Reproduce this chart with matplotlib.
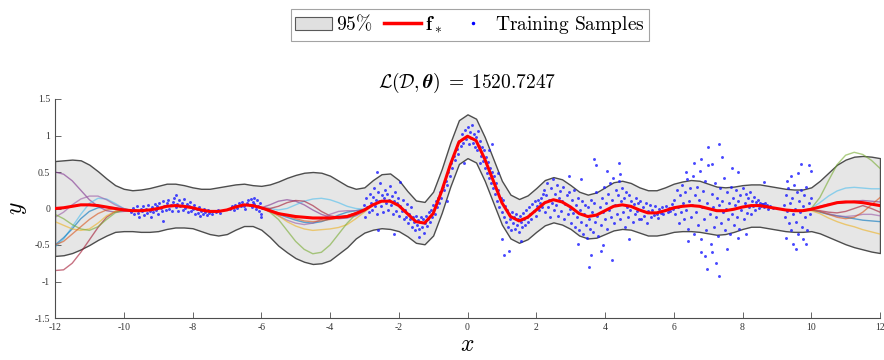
import numpy as np
import matplotlib
matplotlib.use("Agg")
import matplotlib.pyplot as plt
from matplotlib.patches import Patch
from matplotlib.lines import Line2D

plt.rcParams["font.family"] = ["Liberation Serif", "DejaVu Serif"]
plt.rcParams["mathtext.fontset"] = "cm"
plt.rcParams["axes.unicode_minus"] = False

# ---------------------------------------------------------------
# data
# ---------------------------------------------------------------

# grid for the posterior mean / band (step 0.25 from -12 to 12)
x_grid = np.arange(-12, 12.001, 0.25)

mean_f = [
    0.00, 0.01, 0.03, 0.05, 0.05, 0.04, 0.02, 0.00,            # -12 .. -10.25
    -0.02, -0.03, -0.03, -0.02, 0.00, 0.03, 0.04, 0.03,        # -10 .. -8.25
    0.01, -0.02, -0.04, -0.04, -0.02, 0.02, 0.05, 0.04,        # -8 .. -6.25
    0.01, -0.03, -0.07, -0.09, -0.11, -0.12, -0.13, -0.13,     # -6 .. -4.25
    -0.13, -0.12, -0.11, -0.07, -0.02, 0.05, 0.10, 0.10,       # -4 .. -2.25
    0.04, -0.07, -0.18, -0.20, -0.07, 0.24, 0.60, 0.91,        # -2 .. -0.25
    0.99, 0.93, 0.68, 0.38, 0.08, -0.11, -0.17, -0.12,         # 0 .. 1.75
    -0.02, 0.08, 0.12, 0.09, 0.02, -0.07, -0.11, -0.09,        # 2 .. 3.75
    -0.03, 0.03, 0.05, 0.03, -0.02, -0.06, -0.06, -0.03,       # 4 .. 5.75
    0.01, 0.03, 0.04, 0.03, 0.00, -0.03, -0.03, -0.01,         # 6 .. 7.75
    0.02, 0.04, 0.04, 0.02, 0.00, -0.02, -0.03, -0.03,         # 8 .. 9.75
    -0.01, 0.02, 0.05, 0.08, 0.09, 0.09, 0.08, 0.06,           # 10 .. 11.75
    0.04,                                                      # 12
]

# half width of the 95% band
band_half = [
    0.65, 0.65, 0.64, 0.61, 0.55, 0.47, 0.39, 0.32,
    0.29, 0.28, 0.29, 0.30, 0.31, 0.31, 0.30, 0.29,
    0.28, 0.29, 0.31, 0.33, 0.33, 0.31, 0.29, 0.28,
    0.30, 0.36, 0.44, 0.51, 0.57, 0.61, 0.63, 0.62,
    0.58, 0.50, 0.42, 0.34, 0.31, 0.34, 0.37, 0.38,
    0.35, 0.31, 0.29, 0.29, 0.30, 0.30, 0.30, 0.30,
    0.30, 0.30, 0.30, 0.30, 0.30, 0.30, 0.30, 0.30,
    0.30, 0.31, 0.31, 0.31, 0.30, 0.30, 0.30, 0.31,
    0.32, 0.33, 0.33, 0.32, 0.31, 0.31, 0.31, 0.32,
    0.33, 0.34, 0.35, 0.35, 0.34, 0.33, 0.32, 0.31,
    0.30, 0.29, 0.29, 0.29, 0.29, 0.29, 0.29, 0.29,
    0.30, 0.36, 0.44, 0.52, 0.58, 0.62, 0.64, 0.65,
    0.65,
]

# posterior sample curves, only where they leave the mean (gaps in data)
x_left = np.arange(-12, -9.74, 0.25)
x_mid = np.arange(-6, -2.74, 0.25)
x_right = np.arange(9.75, 12.001, 0.25)

sample_colors = ["#7E2F8E", "#4DBEEE", "#0072BD", "#A2142F",
                 "#9B59A6", "#EDB120", "#77AC30", "#D95319"]

samples_left = [
    [0.50, 0.47, 0.38, 0.25, 0.12, 0.03, -0.03, -0.05, -0.04, -0.03],
    [-0.53, -0.42, -0.25, -0.08, 0.07, 0.14, 0.13, 0.07, 0.00, -0.03],
    [-0.50, -0.40, -0.28, -0.14, -0.04, 0.01, 0.02, 0.01, -0.01, -0.03],
    [-0.85, -0.84, -0.75, -0.60, -0.43, -0.26, -0.12, -0.04, -0.02, -0.03],
    [-0.12, -0.05, 0.05, 0.13, 0.17, 0.17, 0.12, 0.05, 0.00, -0.03],
    [-0.18, -0.23, -0.28, -0.30, -0.28, -0.20, -0.10, -0.04, -0.02, -0.03],
    [-0.08, -0.14, -0.22, -0.28, -0.30, -0.25, -0.15, -0.06, -0.02, -0.03],
    [-0.50, -0.45, -0.35, -0.25, -0.15, -0.07, -0.02, 0.00, -0.01, -0.03],
]

samples_mid = [
    [0.01, 0.05, 0.10, 0.12, 0.10, 0.05, -0.02, -0.08, -0.12, -0.14, -0.13, -0.10, -0.04, 0.05],
    [0.01, 0.00, -0.02, 0.00, 0.05, 0.10, 0.13, 0.14, 0.12, 0.08, 0.03, 0.00, -0.01, 0.05],
    [0.01, -0.03, -0.08, -0.12, -0.16, -0.19, -0.20, -0.18, -0.14, -0.09, -0.05, -0.03, -0.01, 0.05],
    [0.01, 0.00, 0.03, 0.08, 0.11, 0.10, 0.04, -0.04, -0.10, -0.12, -0.10, -0.06, -0.02, 0.05],
    [0.01, -0.04, -0.10, -0.16, -0.20, -0.22, -0.20, -0.15, -0.08, -0.04, -0.03, -0.03, -0.02, 0.05],
    [0.01, -0.04, -0.10, -0.18, -0.24, -0.28, -0.30, -0.29, -0.28, -0.26, -0.22, -0.14, -0.05, 0.05],
    [0.01, -0.05, -0.15, -0.30, -0.45, -0.56, -0.62, -0.60, -0.50, -0.35, -0.20, -0.08, -0.02, 0.05],
    [0.01, -0.02, -0.06, -0.10, -0.14, -0.17, -0.18, -0.17, -0.15, -0.13, -0.10, -0.06, -0.02, 0.05],
]

samples_right = [
    [-0.03, -0.01, 0.03, 0.06, 0.07, 0.08, 0.10, 0.11, 0.10, 0.09],
    [-0.03, 0.00, 0.08, 0.17, 0.24, 0.28, 0.29, 0.28, 0.27, 0.27],
    [-0.03, -0.02, -0.05, -0.08, -0.10, -0.12, -0.14, -0.16, -0.17, -0.18],
    [-0.03, -0.02, -0.03, -0.05, -0.06, -0.04, 0.00, 0.04, 0.00, -0.05],
    [-0.03, -0.02, -0.04, -0.07, -0.10, -0.11, -0.10, -0.08, -0.08, -0.10],
    [-0.03, -0.03, -0.07, -0.13, -0.18, -0.22, -0.25, -0.29, -0.32, -0.35],
    [-0.03, 0.00, 0.15, 0.38, 0.60, 0.73, 0.77, 0.74, 0.66, 0.55],
    [-0.03, -0.02, -0.04, -0.08, -0.12, -0.14, -0.12, -0.05, 0.05, 0.15],
]

# training samples, cluster by cluster
train_x_a = [-9.78, -9.74, -9.70, -9.66, -9.62, -9.58, -9.55, -9.51, -9.47, -9.43,
             -9.40, -9.36, -9.32, -9.29, -9.25, -9.21, -9.18, -9.14, -9.10, -9.07,
             -9.03, -9.00, -8.96, -8.92, -8.89, -8.85, -8.82, -8.78, -8.74, -8.71,
             -8.67, -8.63, -8.60, -8.56, -8.53, -8.49, -8.46, -8.42, -8.39, -8.35,
             -8.31, -8.28, -8.24, -8.21, -8.17, -8.13, -8.10, -8.06, -8.03, -7.99,
             -7.95, -7.92, -7.88, -7.85, -7.81, -7.77, -7.74, -7.70, -7.66, -7.63,
             -7.59, -7.55, -7.52, -7.48, -7.44, -7.40, -7.33, -7.27, -7.20, -8.85, -8.48]
train_y_a = [-0.05, 0.01, -0.08, -0.02, 0.03, -0.06, -0.11, 0.00, -0.04, 0.04,
             -0.09, -0.01, -0.06, 0.05, -0.03, -0.12, 0.02, -0.05, 0.06, -0.02,
             0.03, -0.07, 0.08, 0.01, -0.04, 0.10, 0.03, -0.02, 0.07, 0.12,
             0.00, 0.05, -0.04, 0.09, 0.15, 0.02, 0.06, -0.03, 0.11, 0.04,
             0.08, -0.02, 0.13, 0.01, 0.06, -0.05, 0.03, 0.09, -0.03, 0.00,
             0.05, -0.08, -0.01, -0.06, 0.02, -0.10, -0.03, -0.07, 0.00, -0.05,
             -0.09, -0.02, -0.06, -0.04, -0.08, -0.03, -0.05, -0.02, -0.06, -0.17, 0.19]

train_x_b = [-6.90, -6.85, -6.80, -6.75, -6.70, -6.65, -6.60, -6.55, -6.50, -6.46,
             -6.42, -6.38, -6.34, -6.30, -6.27, -6.23, -6.20, -6.16, -6.13, -6.10,
             -6.06, -6.03, -6.00, -5.97, -6.02, -6.22]
train_y_b = [-0.01, 0.03, -0.02, 0.05, 0.01, 0.07, 0.03, 0.09, 0.04, 0.00,
             0.08, 0.11, 0.05, 0.13, 0.02, 0.09, 0.06, -0.01, 0.12, 0.04,
             -0.04, 0.07, -0.08, 0.01, -0.12, 0.15]

train_x_c = [-3.00, -2.97, -2.94, -2.91, -2.88, -2.85, -2.82, -2.79, -2.76, -2.73,
             -2.70, -2.67, -2.64, -2.61, -2.58, -2.55, -2.52, -2.49, -2.46, -2.43,
             -2.40, -2.37, -2.34, -2.31, -2.28, -2.25, -2.22, -2.19, -2.16, -2.13,
             -2.10, -2.07, -2.04, -2.01, -1.98, -1.95, -1.92, -1.89, -1.86, -1.83,
             -1.80, -1.77, -1.74, -1.71, -1.68, -1.65, -1.62, -1.59, -1.56, -1.53,
             -1.50, -1.47, -1.44, -1.41, -1.38, -1.35, -1.32, -1.29, -1.26, -1.23,
             -1.20, -1.17, -1.14, -1.11, -1.08, -1.05, -1.02, -0.99, -0.96, -0.93,
             -0.90, -0.87, -0.84, -0.80, -0.76, -0.72, -0.68, -0.64, -0.60, -0.56,
             -0.52, -0.48, -0.44, -0.40, -0.36, -0.32, -0.28, -0.24, -0.20, -0.16,
             -0.12, -0.08, -0.04, 0.00, 0.03, 0.06, 0.09, 0.12, 0.15, 0.18,
             0.21, 0.24, 0.27, 0.30, 0.33, 0.36, 0.39, 0.42, 0.45, 0.48,
             0.51, 0.54, 0.57, 0.60, 0.63, 0.66, 0.69, 0.72, 0.75, 0.78,
             0.81, 0.84, 0.87, 0.90, 0.93, 0.96, 0.99, 1.02, 1.05, 1.08,
             1.11, 1.14, 1.17, 1.20, 1.23, 1.26, 1.29, 1.32, 1.35, 1.38,
             1.41, 1.44, 1.47, 1.50, 1.53, 1.56, 1.59, 1.62, 1.65, 1.68,
             1.71, 1.74, 1.77, 1.80, 1.83, 1.86, 1.89, 1.92, 1.95, 1.98,
             2.01, 2.04, 2.07, 2.10, 2.13, 2.16, 2.19,
             -2.63, -1.95, -2.15, -2.60, -1.42, 1.01, 1.20, 1.06, 0.72, 0.62,
             -0.10, 0.35, 1.55, -0.60, 0.90]
train_y_c = [0.05, -0.12, 0.14, 0.02, -0.05, 0.20, 0.08, -0.02, 0.16, 0.28,
             0.04, 0.12, -0.08, 0.22, 0.10, 0.35, 0.03, 0.18, -0.05, 0.14,
             0.26, 0.07, 0.20, -0.02, 0.12, 0.31, 0.05, 0.17, -0.08, 0.10,
             0.22, -0.03, 0.08, 0.15, -0.10, 0.04, -0.04, 0.11, -0.15, -0.02,
             -0.12, 0.06, -0.20, -0.08, -0.14, 0.02, -0.25, -0.12, -0.18, -0.30,
             -0.10, -0.22, -0.16, -0.28, -0.19, -0.12, -0.25, -0.15, -0.34, -0.20,
             -0.10, -0.24, -0.14, -0.05, -0.18, -0.02, -0.12, 0.05, -0.08, 0.10,
             0.02, 0.15, 0.08, 0.22, 0.14, 0.30, 0.25, 0.38, 0.32, 0.50,
             0.44, 0.62, 0.55, 0.72, 0.66, 0.82, 0.75, 0.92, 0.86, 1.02,
             0.90, 1.08, 0.95, 1.12, 0.88, 1.05, 0.97, 1.15, 0.90, 1.02,
             0.84, 0.98, 0.80, 1.06, 0.85, 0.92, 0.72, 0.84, 0.65, 0.80,
             0.56, 0.70, 0.48, 0.64, 0.42, 0.55, 0.35, 0.50, 0.28, 0.44,
             0.20, 0.35, 0.10, 0.26, 0.02, 0.15, -0.05, 0.12, -0.12, 0.04,
             -0.18, -0.02, -0.25, -0.08, -0.15, -0.30, -0.05, -0.20, -0.12, -0.28,
             -0.08, -0.22, -0.15, -0.32, -0.10, -0.18, -0.26, -0.06, -0.14, -0.22,
             -0.02, -0.12, -0.18, 0.02, -0.08, -0.15, 0.06, -0.04, 0.10, -0.10,
             0.04, 0.12, -0.02, 0.08, 0.15, 0.02, 0.20,
             0.50, 0.36, -0.35, -0.30, -0.39, -0.42, -0.58, -0.64, 0.89, 0.80,
             0.63, 0.62, -0.45, 0.10, 0.48]

train_x_d = [2.22, 2.25, 2.28, 2.31, 2.34, 2.37, 2.40, 2.43, 2.46, 2.49,
             2.52, 2.55, 2.58, 2.61, 2.64, 2.67, 2.70, 2.73, 2.76, 2.79,
             2.82, 2.85, 2.88, 2.91, 2.94, 2.97, 3.00, 3.03, 3.06, 3.09,
             3.12, 3.15, 3.18, 3.21, 3.24, 3.27, 3.30, 3.33, 3.36, 3.39,
             3.42, 3.45, 3.48, 3.51, 3.54, 3.57, 3.60, 3.63, 3.66, 3.69,
             3.72, 3.75, 3.78, 3.81, 3.84, 3.87, 3.90, 3.93, 3.96, 3.99,
             4.02, 4.05, 4.08, 4.11, 4.14, 4.17, 4.20, 4.23, 4.26, 4.29,
             4.32, 4.35, 4.38, 4.41, 4.44, 4.47, 4.50, 4.53, 4.56, 4.59,
             4.62, 4.65, 4.68, 4.71, 4.74, 4.77, 4.80, 4.83, 4.86, 4.89,
             4.92, 4.95, 4.98,
             3.68, 3.73, 4.41, 3.53, 4.21, 3.59, 3.87, 4.45, 3.30, 2.95,
             3.20, 4.70, 4.05, 3.95]
train_y_d = [0.25, -0.05, 0.18, 0.35, 0.02, 0.12, -0.12, 0.28, 0.08, 0.40,
             -0.02, 0.20, 0.05, 0.32, -0.10, 0.15, 0.24, -0.04, 0.10, 0.30,
             -0.15, 0.06, 0.18, -0.08, 0.22, 0.00, -0.20, 0.12, -0.06, 0.25,
             -0.25, 0.05, -0.12, 0.15, -0.30, -0.02, -0.18, 0.10, -0.35, -0.08,
             0.05, -0.22, -0.40, 0.02, -0.15, -0.28, 0.12, -0.05, -0.32, 0.08,
             -0.18, 0.22, -0.10, -0.38, 0.02, -0.22, 0.15, -0.05, 0.30, -0.15,
             0.08, -0.28, 0.20, -0.02, 0.35, -0.12, 0.12, 0.42, -0.20, 0.05,
             0.25, -0.08, 0.18, 0.38, -0.15, 0.10, 0.28, -0.05, 0.15, -0.25,
             0.22, 0.02, -0.12, 0.18, -0.02, 0.10, -0.18, 0.06, -0.08, 0.14,
             -0.04, 0.08, -0.14,
             0.68, 0.60, 0.63, -0.80, -0.71, -0.64, -0.58, 0.47, 0.40, 0.45,
             -0.48, -0.42, 0.52, -0.50]

train_x_e = [5.02, 5.06, 5.10, 5.14, 5.18, 5.22, 5.26, 5.30, 5.34, 5.38,
             5.42, 5.46, 5.50, 5.54, 5.58, 5.62, 5.66, 5.70, 5.74, 5.78,
             5.82, 5.86, 5.90, 5.94, 5.98]
train_y_e = [0.10, -0.15, 0.02, -0.10, 0.08, -0.20, -0.04, 0.05, -0.12, -0.02,
             -0.09, 0.03, -0.07, -0.13, -0.01, -0.06, 0.02, -0.08, -0.02, 0.04,
             -0.05, 0.01, -0.03, 0.06, -0.01]

train_x_f = [6.02, 6.05, 6.08, 6.11, 6.14, 6.17, 6.20, 6.23, 6.26, 6.29,
             6.32, 6.35, 6.38, 6.41, 6.44, 6.47, 6.50, 6.53, 6.56, 6.59,
             6.62, 6.65, 6.68, 6.71, 6.74, 6.77, 6.80, 6.83, 6.86, 6.89,
             6.92, 6.95, 6.98, 7.01, 7.04, 7.07, 7.10, 7.13, 7.16, 7.19,
             7.22, 7.25, 7.28, 7.31, 7.34, 7.37, 7.40, 7.43, 7.46, 7.49,
             7.52, 7.55, 7.58, 7.61, 7.64, 7.67, 7.70, 7.73, 7.76, 7.79,
             7.82, 7.85, 7.88, 7.91, 7.94, 7.97, 8.00, 8.03, 8.06, 8.09,
             8.12, 8.15, 8.18, 8.21, 8.24, 8.27, 8.30, 8.33, 8.36, 8.39,
             8.42, 8.45, 8.48, 8.51, 8.54, 8.57,
             7.32, 7.00, 7.12, 6.79, 6.35, 6.96, 7.32, 7.22, 6.79, 7.86,
             7.56, 7.86, 8.63, 6.60, 7.40, 6.90, 7.10, 6.40, 7.70, 8.10]
train_y_f = [0.12, -0.08, 0.25, 0.02, -0.20, 0.18, -0.05, 0.32, 0.08, -0.15,
             0.22, -0.02, 0.40, -0.28, 0.10, 0.28, -0.12, 0.05, 0.45, -0.35,
             0.18, -0.05, 0.30, -0.22, 0.12, 0.52, -0.42, 0.02, 0.24, -0.15,
             0.38, -0.30, 0.08, 0.60, -0.08, -0.48, 0.20, 0.02, -0.25, 0.35,
             -0.12, 0.15, -0.38, 0.05, 0.28, -0.20, 0.10, -0.05, 0.42, -0.30,
             0.00, 0.22, -0.15, 0.08, -0.35, 0.30, -0.08, 0.15, -0.22, 0.05,
             0.25, -0.12, 0.10, -0.28, 0.18, -0.02, 0.28, -0.15, 0.08, 0.20,
             -0.06, 0.14, 0.02, 0.22, -0.08, 0.10, 0.04, 0.16, -0.02, 0.09,
             0.05, 0.12, 0.01, 0.07, 0.03, 0.06,
             0.88, 0.84, 0.61, 0.68, 0.50, -0.83, -0.93, -0.74, -0.60, 0.50,
             -0.55, -0.40, 0.36, 0.62, 0.70, -0.65, -0.60, -0.45, 0.55, -0.35]

train_x_g = [8.60, 8.63, 8.66, 8.69, 8.72, 8.75, 8.80, 8.90,
             9.20, 9.23, 9.26, 9.29, 9.32, 9.35, 9.38, 9.41, 9.44, 9.47,
             9.50, 9.53, 9.56, 9.59, 9.62, 9.65, 9.68, 9.71, 9.74, 9.77,
             9.80, 9.83, 9.86, 9.89, 9.92, 9.95, 9.98,
             9.70, 9.93, 9.98, 9.41, 9.46, 9.55, 9.84, 9.75, 9.26, 9.60, 9.30]
train_y_g = [0.06, 0.02, 0.08, 0.03, 0.05, 0.00, 0.04, 0.01,
             0.05, -0.12, 0.18, -0.04, 0.28, -0.20, 0.08, -0.30, 0.15, -0.08,
             0.32, 0.00, -0.18, 0.22, -0.35, 0.10, -0.05, 0.26, -0.25, 0.04,
             0.18, -0.12, 0.30, -0.30, 0.08, -0.08, 0.14,
             0.61, 0.60, 0.52, 0.45, -0.48, -0.55, -0.48, -0.42, -0.40, 0.48, 0.38]

x_ticks = [-12, -10, -8, -6, -4, -2, 0, 2, 4, 6, 8, 10, 12]
y_ticks = [-1.5, -1, -0.5, 0, 0.5, 1, 1.5]

# ---------------------------------------------------------------
# plot
# ---------------------------------------------------------------

mean_f = np.array(mean_f)
band_half = np.array(band_half)

fig = plt.figure(figsize=(8.84, 3.6), dpi=100)
ax = fig.add_axes([55 / 884, 1 - 318 / 360, 825 / 884, 219 / 360])

ax.fill_between(x_grid, mean_f - band_half, mean_f + band_half,
                facecolor=(0.9, 0.9, 0.9), edgecolor=(0.3, 0.3, 0.3),
                linewidth=1.0, zorder=1)

for xs, curves in [(x_left, samples_left), (x_mid, samples_mid), (x_right, samples_right)]:
    for c, ys in zip(sample_colors, curves):
        ax.plot(xs, ys, color=c, linewidth=1.0, alpha=0.6, zorder=2)

train_x = train_x_a + train_x_b + train_x_c + train_x_d + train_x_e + train_x_f + train_x_g
train_y = train_y_a + train_y_b + train_y_c + train_y_d + train_y_e + train_y_f + train_y_g
ax.scatter(train_x, train_y, s=4.5, color=(0.1, 0.1, 1.0), alpha=0.8,
           linewidths=0, zorder=3)

ax.plot(x_grid, mean_f, color="red", linewidth=2.2, zorder=4)

ax.set_xlim(-12, 12)
ax.set_ylim(-1.5, 1.5)
ax.set_xticks(x_ticks)
ax.set_yticks(y_ticks)
ax.set_xticklabels([f"{v:g}" for v in x_ticks])
ax.set_yticklabels([f"{v:g}" for v in y_ticks])
ax.tick_params(direction="in", length=4, width=0.6, labelsize=7,
               color=(0.3, 0.3, 0.3), labelcolor=(0.2, 0.2, 0.2))
for s in ["top", "right"]:
    ax.spines[s].set_visible(False)
for s in ["left", "bottom"]:
    ax.spines[s].set_color((0.3, 0.3, 0.3))
    ax.spines[s].set_linewidth(0.8)

ax.set_xlabel("$x$", fontsize=17, labelpad=2)
ax.set_ylabel("$y$", fontsize=17, labelpad=4)
ax.set_title(r"$\mathcal{L}(\mathcal{D},\boldsymbol{\theta})\;=\;1520.7247$",
             fontsize=14, pad=8)

handles = [
    Patch(facecolor=(0.88, 0.88, 0.88), edgecolor=(0.35, 0.35, 0.35), linewidth=0.8),
    Line2D([], [], color="red", linewidth=2.5),
    Line2D([], [], color="blue", marker=".", markersize=3, linestyle="none"),
]
labels = [r"$\mathrm{95\%}$", r"$\mathbf{f}_*$", r"$\mathrm{Training\ Samples}$"]
leg = fig.legend(handles, labels, loc="center", bbox_to_anchor=(470 / 884, 1 - 25 / 360),
                 ncol=3, fontsize=14, frameon=True, fancybox=False,
                 handlelength=1.9, handletextpad=0.2, columnspacing=0.6,
                 borderpad=0.25, edgecolor=(0.55, 0.55, 0.55))
leg.get_frame().set_linewidth(0.8)

fig.savefig("out.png", dpi=100)
